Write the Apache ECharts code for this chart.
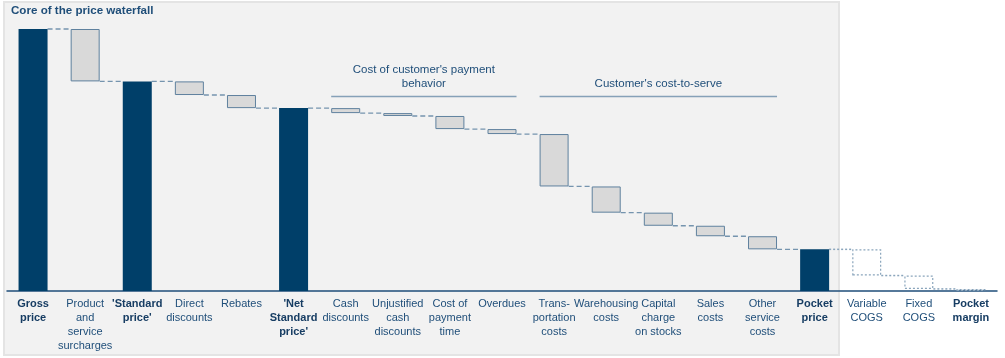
<!DOCTYPE html>
<html>
<head>
<meta charset="utf-8">
<script src="https://cdn.jsdelivr.net/npm/echarts@6/dist/echarts.min.js"></script>
<style>
html,body{margin:0;padding:0;background:#fff;}
#c{width:1005px;height:358px;}
</style>
</head>
<body>
<div id="c"></div>
<script>
// ---- data ----
const categories = ['Gross\nprice', 'Product\nand\nservice\nsurcharges', "'Standard\nprice'", 'Direct\ndiscounts', 'Rebates', "'Net\nStandard\nprice'", 'Cash\ndiscounts', 'Unjustified\ncash\ndiscounts', 'Cost of\npayment\ntime', 'Overdues', 'Trans-\nportation\ncosts', 'Warehousing\ncosts', 'Capital\ncharge\non stocks', 'Sales\ncosts', 'Other\nservice\ncosts', 'Pocket\nprice', 'Variable\nCOGS', 'Fixed\nCOGS', 'Pocket\nmargin'];
const values = [100, 20, 80, 5.2, 5, 69.8, 1.9, 1.1, 5, 1.9, 20, 10, 5, 4, 5, 15.9, 10, 5.1, 0.8];
const kinds = ['total', 'cost', 'total', 'cost', 'cost', 'total', 'cost', 'cost', 'cost', 'cost', 'cost', 'cost', 'cost', 'cost', 'cost', 'total', 'cogs', 'cogs', 'cogs'];
const boldLabels = [true, false, true, false, false, true, false, false, false, false, false, false, false, false, false, true, false, false, true];
const groupNames = ["Cost of customer's payment\nbehavior", "Customer's cost-to-serve"];
const groupStart = [6, 10];
const groupEnd = [9, 14];
const groupLevel = [74.2, 74.2];
const title = 'Core of the price waterfall';

// ---- derived waterfall positions ----
const bases = [], tops = [];
let level = 0;
values.forEach((v, i) => {
  if (kinds[i] === 'total') { bases.push(0); tops.push(v); level = v; }
  else { const lo = level - v; bases.push(lo); tops.push(level); level = lo; }
});
const connectors = [];
for (let i = 0; i < values.length - 1; i++) {
  const lv = kinds[i] === 'total' ? tops[i] : bases[i];
  connectors.push([i, lv]);
}

const BW = 29;
const navy = '#003f69';
const txt = '#1f4e79';
const stroke = '#5f819e';
const FONT = '"Liberation Sans", Arial, sans-serif';

const chart = echarts.init(document.getElementById('c'), null, {renderer: 'canvas'});
chart.setOption({
  animation: false,
  backgroundColor: '#ffffff',
  graphic: [
    {type: 'rect', z: -10, silent: true, shape: {x: 4, y: 2, width: 835, height: 353},
     style: {fill: '#f2f2f2', stroke: '#e4e4e4', lineWidth: 2}},
    {type: 'text', left: 11, top: 5, z: 10,
     style: {text: title, fill: '#1f4e79', font: 'bold 11.6px ' + FONT}}
  ],
  grid: {left: 7, right: 8, top: 29, bottom: 67, containLabel: false},
  xAxis: {
    type: 'category',
    data: categories,
    axisTick: {show: false},
    axisLine: {lineStyle: {color: '#1f4e79', width: 1.5}},
    axisLabel: {
      interval: 0,
      margin: 6,
      lineHeight: 14,
      fontSize: 11,
      fontFamily: FONT,
      color: txt,
      formatter: (v, i) => boldLabels[i] ? '{b|' + v.split('\n').join('}\n{b|') + '}' : v,
      rich: {b: {fontWeight: 'bold', color: '#173d63', fontSize: 11, lineHeight: 14, fontFamily: FONT}}
    }
  },
  yAxis: {type: 'value', min: 0, max: 100, show: false, splitLine: {show: false}},
  series: [
    {type: 'bar', stack: 'w', barWidth: BW, silent: true,
     itemStyle: {color: 'transparent'},
     data: bases},
    {type: 'bar', stack: 'w', barWidth: BW, silent: true,
     data: values.map((v, i) => ({
       value: tops[i] - bases[i],
       itemStyle: kinds[i] === 'total' ? {color: navy} :
         kinds[i] === 'cost' ? {color: '#d9d9d9', borderColor: stroke, borderWidth: 1} :
         {color: 'rgba(255,255,255,0)', borderColor: '#8aa5bc', borderWidth: 1.2, borderType: [2, 2]}
     }))},
    {type: 'custom', silent: true, z: 1,
     data: connectors,
     renderItem: (params, api) => {
       const i = api.value(0), lv = api.value(1);
       const p1 = api.coord([i, lv]), p2 = api.coord([i + 1, lv]);
       const dotted = i >= 15;
       return {type: 'line',
         shape: {x1: p1[0] + BW / 2, y1: p1[1], x2: p2[0] - BW / 2, y2: p2[1]},
         style: {stroke: dotted ? '#8aa5bc' : '#7594ae', lineWidth: dotted ? 1.5 : 1.3, lineDash: dotted ? [2, 2] : [5, 3]}};
     }},
    {type: 'custom', silent: true, z: 3,
     data: groupNames.map((n, k) => [groupStart[k], groupEnd[k], groupLevel[k], k]),
     renderItem: (params, api) => {
       const s = api.value(0), e = api.value(1), lv = api.value(2), k = api.value(3);
       const a = api.coord([s, lv]), b = api.coord([e, lv]);
       const x1 = a[0] - BW / 2, x2 = b[0] + BW / 2;
       return {type: 'group', children: [
         {type: 'line', shape: {x1: x1, y1: a[1], x2: x2, y2: a[1]},
          style: {stroke: '#86a1b8', lineWidth: 1.5}},
         {type: 'text', x: (x1 + x2) / 2, y: a[1] - 6,
          style: {text: groupNames[k], fill: txt, align: 'center', verticalAlign: 'bottom',
                  font: '11.5px ' + FONT, lineHeight: 14}}
       ]};
     }}
  ]
});
</script>
</body>
</html>
